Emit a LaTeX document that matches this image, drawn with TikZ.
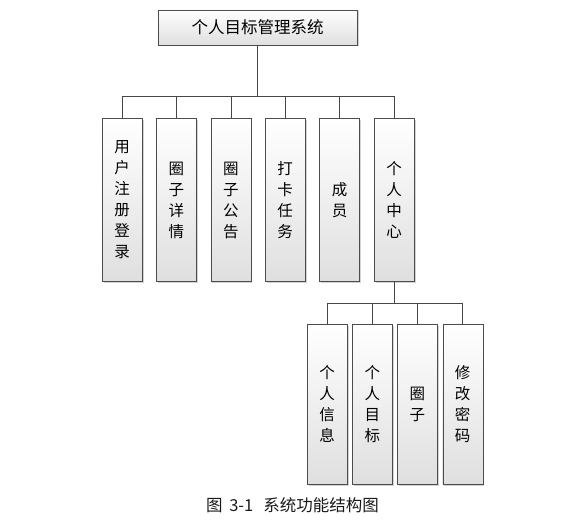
\documentclass[tikz,border=0pt]{standalone}
\usepackage{fontspec}
\newfontfamily\cjk{Noto Sans CJK SC}
\usetikzlibrary{positioning,shadows}
\tikzset{
  module/.style={draw=gray!60!black, top color=white, bottom color=gray!25,
    drop shadow={shadow xshift=1.5pt,shadow yshift=-1.5pt,opacity=0.35},
    minimum width=40pt, minimum height=163pt, inner sep=0pt, align=center,
    font=\cjk\fontsize{15.5}{21}\selectfont},
  submodule/.style={module, minimum height=160pt},
  link/.style={draw=gray!55!black, line width=0.6pt},
}

\begin{document}
\begin{tikzpicture}
  \useasboundingbox (0,0) rectangle (571pt,-532pt);

  \node [module, minimum width=199pt, minimum height=35pt, font=\cjk\fontsize{16.5}{18}\selectfont] (title) at (257.5pt,-27.5pt) {个人目标管理系统};

  % first level
  \node [module] (register) at (122pt,-200pt) {用\\户\\注\\册\\登\\录};
  \node [module, right=14pt of register] (circledetail) {圈\\子\\详\\情};
  \node [module, right=14pt of circledetail] (notice) {圈\\子\\公\\告};
  \node [module, right=14pt of notice] (checkin) {打\\卡\\任\\务};
  \node [module, right=14pt of checkin] (member) {成\\员};
  \node [module, right=14pt of member] (center) {个\\人\\中\\心};

  % second level
  \node [submodule] (info) at (327pt,-404pt) {个\\人\\信\\息};
  \node [submodule, right=5pt of info] (goal) {个\\人\\目\\标};
  \node [submodule, right=4.5pt of goal] (circle) {圈\\子};
  \node [submodule, right=5pt of circle] (password) {修\\改\\密\\码};

  \foreach \child in {register,circledetail,notice,checkin,member,center}
    \draw [link] (title.south) -- ++(0,-51pt) -| (\child.north);
  \foreach \child in {info,goal,circle,password}
    \draw [link] (center.south) -- ++(0,-21.5pt) -| (\child.north);

  \node [font=\cjk\fontsize{16.5}{18}\selectfont, text=gray!20!black] (caption) at (292.5pt,-505pt) {图\hspace{0.4em}3-1\hspace{0.6em}系统功能结构图};
\end{tikzpicture}
\end{document}
